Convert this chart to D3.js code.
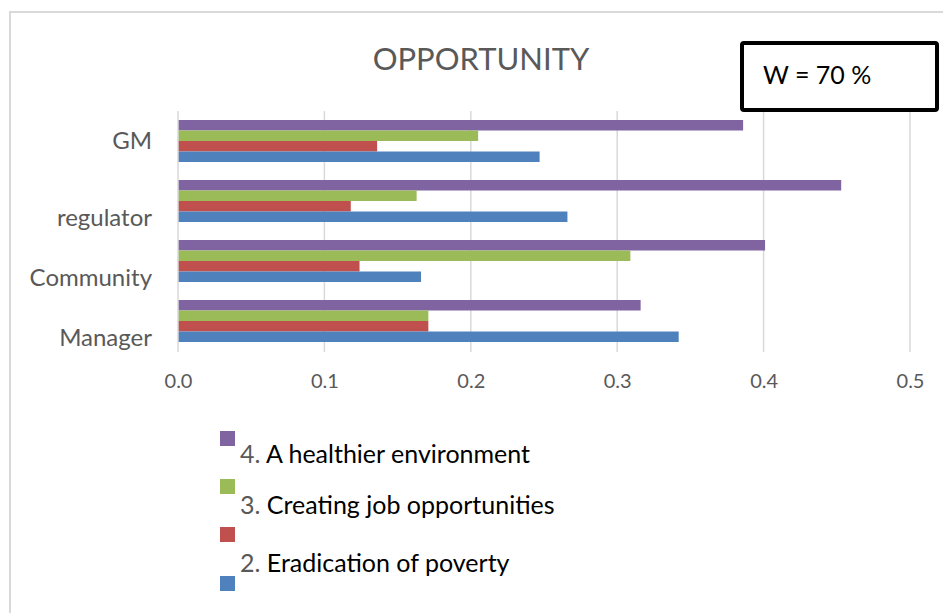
<!DOCTYPE html>
<html>
<head>
<meta charset="utf-8">
<script src="https://cdn.jsdelivr.net/npm/d3@7/dist/d3.min.js"></script>
<style>
  html, body { margin: 0; padding: 0; background: #fff; }
  svg { display: block; font-family: Lato, "Open Sans", sans-serif; }
</style>
</head>
<body>
<svg id="chart" width="943" height="613"></svg>
<script>
// Stakeholder groups, top to bottom
const categories = ["GM", "regulator", "Community", "Manager"];
// Series numbers and descriptions (the fourth series has no description in the legend)
const seriesNumbers = ["4.", "3.", "2.", ""];
const seriesNames = ["A healthier environment", "Creating job opportunities", "Eradication of poverty", ""];
const seriesColors = ["#8064A2", "#9BBB59", "#C0504D", "#4F81BD"];
// Values per series, in category order
const healthierEnv   = [0.386, 0.453, 0.401, 0.316];
const jobOpps        = [0.205, 0.163, 0.309, 0.171];
const povertyErad    = [0.136, 0.118, 0.124, 0.171];
const fourthSeries   = [0.247, 0.266, 0.166, 0.342];
const seriesValues = [healthierEnv, jobOpps, povertyErad, fourthSeries];
const xTicks = [0, 0.1, 0.2, 0.3, 0.4, 0.5];
const titleText = "OPPORTUNITY";
const noteText = "W = 70 %";

const svg = d3.select("#chart");

// chart frame
svg.append("rect")
  .attr("x", 10).attr("y", 12).attr("width", 1000).attr("height", 700)
  .attr("fill", "#fff").attr("stroke", "#d9d9d9").attr("stroke-width", 2);

const x = d3.scaleLinear().domain([0, 0.5]).range([178, 910]);
const y = d3.scaleBand().domain(categories).range([111, 351])
  .paddingInner(0.3).paddingOuter(0.15);
const ySeries = d3.scaleBand().domain(d3.range(seriesValues.length))
  .range([0, y.bandwidth()]);

// vertical gridlines
svg.append("g").selectAll("line").data(xTicks.slice(1)).join("line")
  .attr("x1", d => x(d)).attr("x2", d => x(d))
  .attr("y1", 111).attr("y2", 352)
  .attr("stroke", "#d9d9d9").attr("stroke-width", 1.5);

// bars
const rows = [];
seriesValues.forEach((vals, s) => vals.forEach((v, i) => rows.push({ s, c: categories[i], v })));
svg.append("g").selectAll("rect").data(rows).join("rect")
  .attr("x", x(0))
  .attr("y", d => y(d.c) + ySeries(d.s))
  .attr("width", d => x(d.v) - x(0))
  .attr("height", ySeries.bandwidth())
  .attr("fill", d => seriesColors[d.s]);

// category axis
const yAxis = svg.append("g").attr("transform", `translate(${x(0)},0)`)
  .call(d3.axisLeft(y).tickSize(0).tickPadding(26));
yAxis.select(".domain").attr("stroke", "#d9d9d9").attr("stroke-width", 1.5)
  .attr("d", "M0,111V352");
yAxis.selectAll("text")
  .attr("font-family", "Lato, sans-serif").attr("font-size", 24).attr("fill", "#595959")
  .attr("dy", (d, i) => i === 0 ? "0.35em" : "1.05em");

// value axis
const xAxis = svg.append("g").attr("transform", "translate(0,352)")
  .call(d3.axisBottom(x).tickValues(xTicks).tickFormat(d3.format(".1f")).tickSize(0).tickPadding(22));
xAxis.select(".domain").remove();
xAxis.selectAll("text")
  .attr("font-family", "Lato, sans-serif").attr("font-size", 20).attr("fill", "#595959");

// title
svg.append("text")
  .attr("x", 481).attr("y", 70).attr("text-anchor", "middle")
  .attr("font-size", 31).attr("fill", "#595959").text(titleText);

// note box
svg.append("rect")
  .attr("x", 742).attr("y", 43).attr("width", 195).attr("height", 67).attr("rx", 2)
  .attr("fill", "#fff").attr("stroke", "#000").attr("stroke-width", 4);
svg.append("text")
  .attr("x", 763).attr("y", 84).attr("font-size", 25).attr("fill", "#000").text(noteText);

// legend
const legendSquareY = [431, 479, 527, 576];
const legendTextY = [463, 514, 572];
const legend = svg.append("g");
seriesColors.forEach((col, i) => {
  legend.append("rect").attr("x", 220).attr("y", legendSquareY[i])
    .attr("width", 15).attr("height", 15).attr("fill", col);
  if (seriesNames[i]) {
    const t = legend.append("text").attr("x", 240).attr("y", legendTextY[i]).attr("font-size", 25);
    t.append("tspan").attr("fill", "#595959").text(seriesNumbers[i] + " ");
    t.append("tspan").attr("fill", "#000").text(seriesNames[i]);
  }
});
</script>
</body>
</html>
